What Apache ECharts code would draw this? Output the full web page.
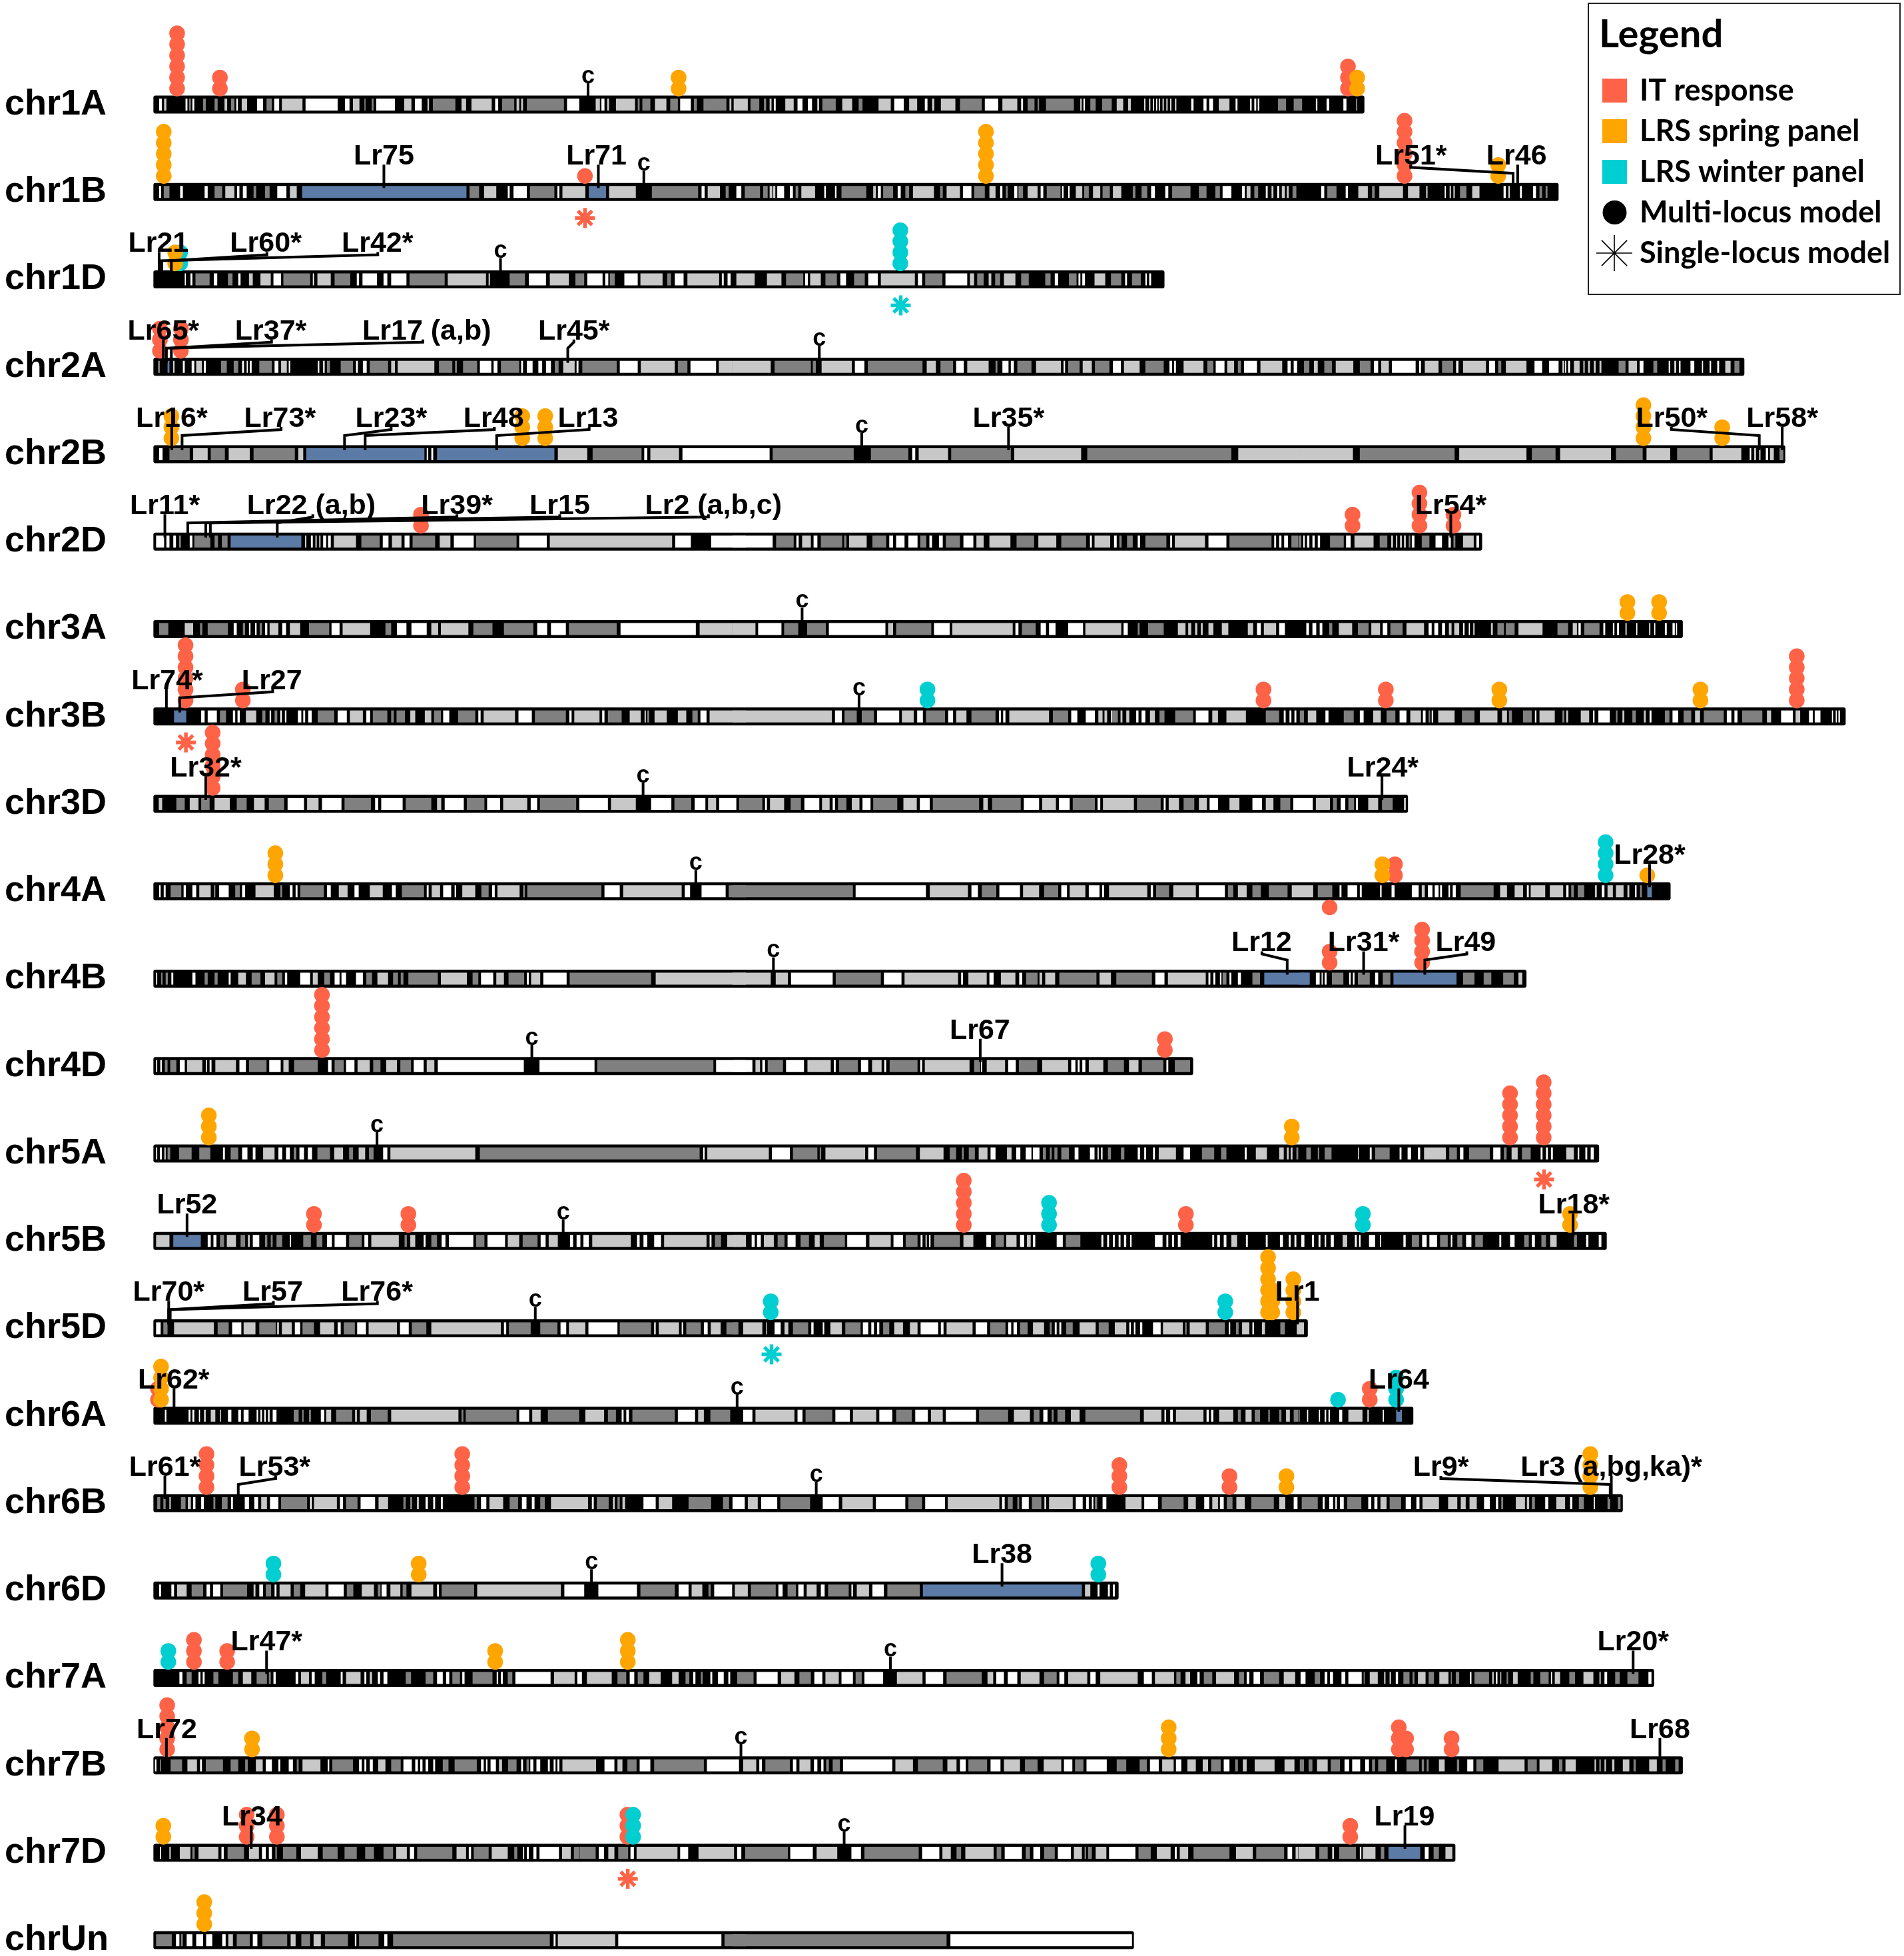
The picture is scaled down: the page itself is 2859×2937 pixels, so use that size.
<!DOCTYPE html>
<html>
<head>
<meta charset="utf-8">
<title>Lr genes on wheat chromosomes</title>
<style>html,body{margin:0;padding:0;background:#fff}#main{width:2859px;height:2937px}</style>
<script src="https://cdn.jsdelivr.net/npm/echarts@6/dist/echarts.min.js"></script>
</head>
<body>
<div id="main"></div>
<script>
var chrNames = ['chr1A','chr1B','chr1D','chr2A','chr2B','chr2D','chr3A','chr3B','chr3D','chr4A','chr4B','chr4D','chr5A','chr5B','chr5D','chr6A','chr6B','chr6D','chr7A','chr7B','chr7D','chrUn'];
// chromosome ends, in read-off units
var chrEnd = [3186,3694,2663,4180,4287,3494,4019,4445,3300,3987,3610,2738,3800,3820,3038,3314,3862,2543,3944,4019,3424,2583];

// band shades
var W = 0, L = 1, D = 2, B = 3;
// bands were read in three strips, each list is start,end,shade
var stripStart = [0, 1533, 3014];

var band1A = [
 [33,40,W,46,52,L,102,107,W,111,116,D,120,125,W,148,155,D,178,186,D,204,211,L,221,230,D,235,239,W,249,263,L,289,305,W,314,328,D,334,347,W,354,408,L,416,500,W,519,531,W,540,557,L,570,573,D,589,594,D,601,650,W,674,693,L,702,720,W,735,739,L,749,808,D,824,836,L,850,903,L,912,920,W,930,962,D,968,975,L,980,985,L,995,1092,D,1100,1132,W,1175,1186,L,1190,1198,W,1205,1210,L,1228,1278,L,1285,1290,D,1297,1318,D,1330,1360,L,1370,1390,D,1396,1424,W,1432,1440,D,1457,1517,D,1525,1530,L],
 [3,40,L,47,70,D,82,88,D,97,102,L,108,113,W,138,160,L,170,183,W,197,208,W,222,226,W,235,270,D,287,313,L,330,340,D,382,414,L,423,448,W,462,483,L,503,510,W,522,528,L,545,583,L,595,652,D,660,695,W,706,745,L,755,760,W,772,790,D,798,802,D,820,893,D,910,913,W,918,922,W,936,950,D,967,992,D,1005,1022,L,1035,1042,L,1077,1080,W,1090,1093,W,1100,1103,W,1108,1111,W,1115,1118,W,1125,1128,W,1135,1138,W,1145,1148,W,1158,1161,W,1200,1206,W,1232,1240,W,1247,1257,W,1272,1300,L,1316,1321,W,1354,1358,W,1365,1370,W,1374,1378,W,1427,1448,D,1468,1490,D,1526,1530,W,1554,1561,W,1598,1606,W,1632,1634,W],
 []];
var band1B = [
 [33,38,W,45,60,D,88,95,W,152,160,W,178,198,D,206,230,L,237,243,W,252,262,W,280,287,D,310,322,D,342,366,W,375,393,L,407,837,B,845,870,D,883,915,L,945,950,W,960,995,W,1003,1067,D,1075,1080,W,1088,1148,L,1157,1202,B,1210,1280,L,1322,1443,D,1452,1460,W,1468,1500,L,1515,1523,D],
 [10,23,W,32,72,D,80,92,D,97,103,L,105,112,L,117,135,W,150,158,W,165,172,D,180,216,L,240,244,W,268,272,W,285,350,D,368,375,L,380,388,W,394,420,D,432,440,W,452,462,D,472,527,L,543,550,D,560,595,L,603,625,W,632,660,D,672,688,L,700,706,W,715,720,D,737,745,W,748,760,D,772,798,L,806,813,W,822,858,D,862,866,W,878,882,W,898,915,L,920,932,D,943,962,L,968,987,D,995,1017,L,1047,1054,D,1070,1085,D,1095,1105,W,1132,1140,W,1150,1198,D,1220,1240,D,1263,1275,D,1282,1305,W,1333,1340,W,1345,1355,L,1365,1375,D,1395,1400,W,1410,1415,L,1425,1430,W,1437,1445,L,1450,1455,L,1465,1475,D],
 [59,67,W,75,99,D,123,129,W,156,181,L,192,199,D,211,273,L,286,316,L,334,337,W,382,385,W,395,398,W,405,408,W,422,439,D,454,473,L,536,542,W,549,552,W,579,584,W,613,621,W,630,637,D,646,651,D]];
var band1D = [
 [100,103,W,115,120,W,128,165,D,176,185,W,213,225,D,240,246,W,268,278,L,298,325,L,332,352,W,358,428,D,435,438,W,447,482,L,492,533,D,550,556,W,565,603,W,620,630,W,640,680,W,688,780,D,788,888,L,895,898,W,950,990,D,1000,1045,W,1055,1105,L,1122,1145,D,1153,1193,W,1200,1208,W,1212,1225,D,1250,1285,W,1292,1350,L,1362,1372,D,1382,1405,W,1415,1498,L,1505,1510,W,1520,1528,W],
 [10,58,L,90,128,L,140,185,D,190,197,W,203,231,L,243,273,D,282,297,W,318,346,D,355,380,W,388,477,L,485,496,W,504,549,D,557,614,W,621,632,L,640,657,D,670,677,L,687,700,D,710,740,L,755,775,D,818,832,D,843,852,W,880,900,D,905,910,W,915,922,W,947,975,L,990,1017,D,1027,1032,W,1045,1068,D,1080,1084,W,1090,1095,W],
 []];
var band2A = [
 [30,35,D,55,60,B,70,73,W,95,100,W,118,125,W,130,145,L,150,155,W,195,210,D,228,240,D,250,255,W,262,265,W,270,275,W,295,328,D,335,345,W,352,367,L,372,376,W,448,452,W,462,466,W,472,480,D,508,540,D,548,553,W,566,576,W,584,632,D,640,650,L,657,753,L,765,800,D,807,812,D,828,865,D,872,902,W,908,918,W,927,975,D,980,985,W,995,1010,W,1025,1035,W,1045,1058,W,1068,1078,D,1090,1120,L,1125,1130,W,1140,1230,D,1238,1285,W,1293,1382,L,1390,1415,D,1423,1490,W,1497,1533,L],
 [0,100,L,110,205,D,210,218,D,233,312,L,320,345,W,354,497,D,508,532,L,544,577,D,585,605,W,614,670,L,688,693,D,706,722,W,728,736,W,745,782,D,794,859,L,866,870,W,878,908,D,916,940,L,948,986,D,995,1016,W,1024,1065,L,1080,1128,D,1143,1150,W,1155,1160,W,1180,1232,L,1242,1258,D,1264,1287,W,1294,1312,L,1322,1330,D,1338,1372,W,1381,1438,L,1452,1460,W,1468,1477,W],
 [14,28,D,40,50,L,67,87,D,97,143,L,160,188,D,197,208,W,216,236,L,244,306,W,315,320,W,330,366,L,375,404,D,412,418,W,430,490,L,498,514,W,522,530,D,542,596,L,617,637,W,655,680,W,690,695,L,697,700,W,705,710,W,720,735,L,745,748,W,757,762,L,772,777,L,787,792,L,837,855,D,863,885,L,892,902,W,928,938,D,968,972,W,983,987,W,995,999,W,1025,1035,W,1055,1058,W,1075,1079,W,1095,1100,W,1116,1130,L,1140,1153,D]];
var band2B = [
 [33,42,W,60,113,D,122,160,L,168,205,D,215,270,L,280,388,D,397,410,L,418,727,B,733,737,W,745,750,W,760,1067,B,1076,1153,L,1167,1295,D,1302,1310,W,1318,1393,L,1402,1568,W],
 [0,97,W,105,317,D,362,460,D,470,478,W,487,564,L,572,728,D,737,912,L,928,1305,D,1323,1481,L],
 [0,142,L,160,408,D,420,596,L,610,672,D,684,817,L,830,900,D,910,972,L,990,1075,D,1083,1158,L,1180,1184,W,1192,1196,W,1205,1208,W,1222,1228,W,1233,1243,L,1258,1268,D]];
var band2D = [
 [25,46,W,52,60,W,70,77,W,85,90,D,113,120,W,125,167,D,178,187,D,197,212,D,220,405,B,415,418,W,430,435,W,442,445,W,452,455,W,462,470,W,475,482,W,490,548,L,562,610,D,618,633,W,642,667,L,675,688,W,696,755,D,767,795,L,804,856,W,862,968,D,975,1047,W,1055,1375,L,1383,1424,W,1477,1568,W],
 [0,105,W,114,160,D,167,173,W,182,205,L,212,222,W,231,287,D,292,298,D,305,351,L,366,402,D,410,420,W,428,450,W,460,484,W,491,507,D,515,522,W,540,550,W,558,595,D,604,630,W,638,657,L,672,727,L,743,789,D,800,847,L,860,925,D,935,940,W,947,988,L,998,1005,W,1012,1018,D,1032,1047,D,1060,1066,W,1080,1135,D,1145,1150,W,1157,1236,L,1245,1292,W,1300,1410,D,1417,1422,W,1430,1436,W,1443,1453,W,1462,1480,D],
 [0,7,D,12,16,W,22,28,W,36,42,W,50,56,W,82,118,D,124,136,W,146,196,L,212,232,D,242,247,L,255,258,W,265,270,L,276,280,W,288,292,D,296,303,W,322,342,D,358,375,W,392,398,W,405,410,D,430,458,L,465,472,W]];
var band3A = [
 [33,57,D,100,122,L,140,146,D,160,213,D,228,236,W,252,258,D,268,272,W,284,288,W,296,302,D,310,316,W,322,345,L,355,365,W,375,402,L,425,478,D,484,505,W,513,585,L,625,640,D,655,680,W,693,733,W,745,763,L,770,842,L,855,905,D,935,1012,D,1022,1048,W,1058,1097,W,1105,1230,D,1240,1437,W,1447,1533,L],
 [0,60,L,67,128,W,135,172,D,195,244,D,252,400,W,407,420,L,428,520,D,527,568,W,575,733,L,740,748,W,757,793,D,806,820,W,828,845,W,878,917,W,923,1017,L,1023,1034,W,1060,1065,D,1087,1128,D,1165,1185,L,1192,1200,L,1210,1216,L,1225,1230,L,1245,1258,L,1280,1297,L,1348,1362,L,1372,1382,W,1390,1422,L,1430,1445,W],
 [20,27,W,36,46,W,55,62,W,80,88,D,105,140,L,155,183,D,190,213,L,220,232,W,240,272,D,282,328,L,340,348,W,355,365,W,375,383,W,393,400,L,407,420,L,430,434,W,445,448,W,457,460,W,503,508,L,520,537,D,542,565,D,575,638,L,677,705,D,717,728,L,732,738,W,747,787,D,797,802,W,822,826,W,833,838,W,855,858,W,883,886,W,917,920,W,930,933,W,958,963,W,978,984,W,987,990,W]];
var band3B = [
 [72,104,B,143,152,W,160,184,W,192,208,D,226,232,W,238,244,W,260,287,L,303,311,D,322,326,W,335,342,D,350,354,W,362,366,W,396,405,W,410,415,W,423,432,W,448,491,D,500,524,W,532,566,L,575,585,W,592,630,D,640,647,D,654,676,D,690,703,L,728,745,L,752,770,D,776,792,W,815,860,D,868,874,W,882,964,L,973,1008,W,1016,1097,D,1106,1112,W,1119,1185,L,1192,1198,W,1207,1243,D,1264,1293,L,1303,1306,W,1310,1315,D,1329,1361,L,1390,1412,L,1428,1442,D,1449,1465,W,1473,1568,L],
 [0,260,L,268,286,W,293,325,D,338,370,D,378,436,W,443,474,L,483,498,W,506,556,D,564,577,W,585,612,L,625,688,D,697,702,W,708,714,W,724,828,L,838,878,D,886,902,W,924,948,W,957,968,L,973,980,L,990,993,W,993,1008,D,1015,1020,L,1030,1038,L,1056,1062,W,1070,1080,W,1092,1105,L,1117,1130,D,1158,1205,D,1212,1245,W,1255,1270,L,1292,1343,L,1395,1430,D,1442,1447,W,1457,1462,W,1470,1475,W],
 [3,14,D,24,46,L,70,78,W,118,144,D,160,170,W,195,215,L,230,253,D,264,282,W,292,320,L,325,332,W,340,344,D,348,352,W,365,408,L,427,460,D,474,520,L,532,545,L,550,558,D,587,610,D,618,622,W,630,670,L,690,695,D,700,705,L,738,760,L,770,774,W,784,814,W,830,834,D,847,852,L,873,882,D,903,908,L,918,923,W,958,970,D,978,993,W,1007,1027,D,1037,1050,L,1060,1112,D,1120,1132,W,1140,1148,W,1160,1213,D,1225,1236,L,1262,1293,W,1300,1312,L,1335,1345,W,1350,1365,W,1395,1398,W,1405,1408,W,1412,1416,W]];
var band3D = [
 [32,41,L,78,100,D,113,136,L,143,165,D,178,218,L,236,262,D,281,309,L,320,360,D,369,412,W,420,450,L,459,510,W,518,587,D,598,606,W,614,670,W,678,745,D,760,771,L,780,830,W,838,884,D,891,925,W,933,996,L,1005,1022,W,1029,1124,D,1132,1207,W,1215,1280,L,1320,1373,W,1381,1425,D,1434,1462,W,1469,1490,L,1498,1543,W,1552,1568,D],
 [0,8,W,17,78,D,85,90,W,98,135,L,152,179,D,188,227,W,234,254,L,262,268,W,276,298,D,312,332,L,340,361,W,368,431,D,447,482,L,490,516,W,524,645,D,656,668,L,679,754,D,762,802,W,810,846,L,854,882,W,890,948,D,955,962,W,969,1050,L,1058,1120,D,1128,1133,W,1141,1168,L,1180,1208,D,1220,1241,L,1248,1270,W,1300,1326,L,1360,1385,W,1395,1415,L,1433,1459,D,1467,1481,W],
 [0,37,W,45,82,L,90,100,D,110,122,W,130,145,D,150,155,W,182,208,L,218,246,D,276,280,W]];
var band4A = [
 [33,37,W,45,50,W,63,91,D,97,103,W,120,130,W,138,168,L,176,180,D,190,215,W,232,244,D,250,258,W,285,333,L,350,355,D,375,382,W,390,395,W,402,464,D,472,482,W,503,526,L,544,555,W,584,618,L,642,652,W,668,726,D,733,738,W,746,768,L,776,797,W,806,810,W,826,860,L,876,895,D,904,911,W,918,976,L,985,990,D,996,1190,D,1198,1238,W,1247,1400,L,1408,1422,W,1452,1515,W,1523,1568,D],
 [0,315,D,322,506,W,516,616,L,625,642,W,652,690,D,698,752,W,760,802,L,815,852,D,860,875,W,882,923,L,932,960,W,967,972,W,985,1085,L,1094,1100,W,1108,1142,D,1153,1212,L,1220,1288,W,1296,1310,D,1322,1345,L,1360,1382,D,1403,1452,D,1463,1481,L],
 [0,38,L,50,88,D,107,112,W,128,153,W,160,165,W,213,217,W,243,251,W,296,314,W,322,330,L,338,350,W,356,366,W,370,375,W,392,396,W,403,411,W,424,510,D,527,545,L,565,587,L,597,602,W,607,645,L,657,692,L,700,706,W,713,720,D,730,747,D,775,780,L,793,800,W,808,822,L,830,850,L,860,865,L,880,884,W,893,898,D,912,924,B]];
var band4B = [
 [25,28,W,38,42,D,50,56,D,65,70,W,120,128,W,152,160,D,178,186,D,215,220,W,240,260,L,275,298,D,310,335,L,342,355,D,362,368,W,402,428,W,435,448,L,465,480,D,492,505,W,510,522,W,548,566,W,575,590,D,604,632,L,645,658,D,665,672,D,685,762,D,770,838,L,853,868,D,875,907,W,915,935,L,947,988,D,995,1000,W,1006,1030,L,1038,1099,W,1107,1320,D,1332,1568,L],
 [0,100,L,113,145,L,153,262,W,270,388,D,396,442,W,450,590,L,598,603,W,617,665,L,672,683,W,702,740,L,750,758,W,768,798,D,803,810,L,818,844,L,855,952,D,960,990,L,1004,1097,D,1106,1130,W,1139,1238,L,1245,1250,W,1258,1263,W,1275,1279,W,1282,1292,D,1300,1305,W,1322,1330,W,1360,1380,D,1391,1510,B],
 [0,28,B,45,55,W,60,63,W,68,73,W,87,117,D,132,136,W,142,146,W,155,186,D,200,208,W,220,240,D,248,413,B,430,460,D,484,504,D,535,563,D,575,585,L]];
var band4D = [
 [25,28,W,36,40,W,48,55,D,62,78,D,87,100,W,106,146,L,155,158,W,165,170,W,180,234,L,243,260,W,268,314,D,321,351,W,358,372,L,386,448,D,475,484,W,492,516,D,522,544,W,552,584,L,593,612,D,627,655,L,664,692,D,699,725,W,733,753,L,762,987,W,1028,1172,W,1179,1483,D,1490,1568,W],
 [0,52,W,60,72,L,78,85,W,92,132,D,140,187,W,196,257,L,265,270,W,279,328,D,336,355,W,365,390,L,397,402,W,411,484,D,491,496,W,503,620,L,632,648,D,650,653,W,665,713,L,721,741,W,749,797,D,810,878,L,886,897,W,903,908,W,915,923,W,932,970,L,982,1024,D,1037,1062,L,1071,1127,D,1135,1140,W,1157,1197,D],
 []];
var band5A = [
 [25,28,W,35,40,W,47,50,W,55,62,D,85,118,D,138,167,D,200,205,W,220,240,D,250,264,W,278,285,W,305,335,L,345,355,W,365,375,W,385,392,D,400,412,W,422,433,W,447,480,D,491,514,L,530,540,D,555,572,L,582,594,D,619,630,W,638,860,L,872,1447,D,1456,1460,W,1467,1568,L],
 [0,95,L,103,150,W,158,222,D,228,232,D,243,347,L,355,370,W,378,480,D,490,552,L,568,585,D,600,605,D,618,634,D,644,667,L,675,688,W,718,730,L,742,753,W,767,782,W,786,803,W,812,820,D,830,835,D,842,850,D,860,880,D,895,905,W,935,947,W,955,958,W,964,968,W,982,990,D,1016,1025,D,1060,1066,W,1077,1082,W,1100,1105,W,1115,1160,L,1180,1197,W,1228,1260,D,1278,1292,D,1340,1345,W,1369,1398,L,1430,1442,L,1450,1455,L,1460,1465,L,1475,1480,D],
 [20,32,D,50,54,D,68,86,D,155,157,W,186,191,W,200,238,D,264,269,W,285,294,W,312,318,W,328,385,L,394,414,D,422,431,W,446,500,D,509,528,W,537,544,D,557,573,L,584,607,D,633,638,W,647,652,W,660,665,W,700,720,L,730,734,W,750,755,W,764,772,W]];
var band5B = [
 [25,60,L,70,142,B,160,168,W,175,183,W,192,203,D,210,234,L,246,258,D,265,270,L,278,295,W,310,316,D,325,330,D,340,355,D,375,378,W,410,430,D,445,460,D,472,485,W,492,522,W,530,563,D,570,580,W,588,660,L,675,681,D,690,703,L,725,730,W,745,760,D,772,782,W,791,855,W,862,884,D,892,938,W,945,975,L,984,1023,D,1031,1044,W,1052,1076,L,1108,1116,W,1125,1135,W,1143,1157,W,1166,1267,L,1283,1290,W,1300,1310,W,1328,1346,W,1354,1465,L,1473,1478,W,1487,1503,D,1519,1568,L],
 [0,25,L,50,58,W,64,74,W,82,108,L,118,136,D,144,165,W,178,200,D,215,228,L,239,294,D,300,349,W,358,414,L,421,446,W,453,484,D,492,497,W,505,508,W,514,518,W,527,595,D,604,630,L,664,676,W,688,710,D,716,743,L,752,763,W,770,780,L,786,792,W,848,864,W,872,910,D,965,970,W,980,985,W,995,1000,W,1010,1015,W,1024,1030,W,1040,1044,W,1105,1125,W,1135,1140,W,1150,1155,W,1165,1172,W,1255,1260,W,1268,1275,W,1285,1292,W,1305,1320,L,1343,1348,W,1395,1400,W,1432,1440,W,1455,1460,W,1470,1475,W],
 [7,15,W,35,40,W,52,57,W,68,72,W,84,92,W,115,127,L,147,152,W,158,162,W,184,200,W,213,216,W,274,280,W,296,315,D,323,335,W,342,362,W,370,390,D,398,402,W,415,428,D,438,452,W,462,482,D,525,530,W,553,565,W,590,602,D,610,618,W,635,647,D,658,675,L,720,728,D,752,758,W,785,792,W]];
var band5D = [
 [25,37,W,44,55,D,72,176,L,186,215,D,224,248,W,254,285,L,295,338,D,342,346,W,354,380,L,388,402,W,408,438,D,454,491,L,500,508,W,516,545,D,551,574,W,581,655,L,663,686,W,694,732,D,745,927,L,935,941,W,948,1005,D,1030,1075,D,1083,1098,W,1105,1148,L,1156,1232,W,1238,1320,D,1328,1332,W,1340,1393,L,1400,1404,W,1412,1450,D,1458,1468,W,1476,1502,L,1517,1548,D,1560,1568,W],
 [0,15,D,28,78,L,88,90,W,110,126,W,136,146,L,158,198,D,206,212,W,236,240,W,256,286,L,295,335,D,341,355,W,363,370,W,378,384,W,394,410,D,423,446,L,464,484,L,492,538,W,545,552,W,560,628,L,636,666,W,674,714,D,721,729,W,735,744,W,752,772,D,786,815,L,830,835,D,843,848,W,855,860,W,873,890,D,908,950,L,958,984,D,1000,1030,L,1038,1042,W,1050,1054,W,1066,1072,W,1100,1120,W,1126,1178,L,1184,1188,D,1196,1238,L,1246,1288,D,1298,1302,W,1317,1324,D,1333,1352,L,1360,1364,W,1385,1393,L,1433,1445,D,1476,1495,L],
 []];
var band6A = [
 [48,52,W,110,115,W,120,125,W,137,140,W,150,155,L,168,180,L,192,195,L,213,222,W,240,247,W,254,267,W,288,292,W,298,302,W,308,312,W,318,322,W,330,340,W,385,398,D,407,411,D,425,430,D,456,465,W,470,483,L,496,538,D,546,550,W,558,576,L,587,631,D,640,816,L,824,829,D,835,968,D,975,1001,W,1009,1031,L,1050,1132,D,1148,1197,L,1207,1228,D,1243,1248,W,1255,1262,W,1271,1382,D,1390,1435,W,1443,1458,L,1475,1527,D],
 [28,52,W,60,162,L,170,183,W,191,261,D,269,307,W,315,376,L,384,418,W,428,469,D,478,511,W,519,550,L,558,637,W,645,721,D,736,778,L,788,803,D,813,824,W,835,840,D,850,870,D,885,908,L,923,1066,D,1076,1122,L,1130,1134,W,1145,1152,W,1160,1232,L,1240,1246,W,1252,1258,W,1273,1310,L,1322,1330,D,1342,1358,L,1366,1380,D,1402,1405,L,1430,1436,D,1448,1458,L,1468,1480,D],
 [0,3,D,22,25,W,53,56,W,68,72,W,78,82,W,106,114,W,130,167,L,180,183,W,220,223,W,255,270,B]];
var band6B = [
 [28,36,D,44,50,D,60,63,W,90,102,D,108,116,L,122,128,W,143,150,W,175,180,D,197,212,D,221,226,W,257,268,W,282,292,W,300,315,L,323,345,W,352,420,D,428,432,W,438,498,L,506,514,W,522,552,D,560,598,W,607,632,L,672,678,D,690,695,D,708,712,W,730,736,W,750,755,W,770,775,W,858,864,D,875,889,W,897,933,L,950,972,D,982,994,W,1008,1015,W,1030,1042,D,1058,1155,L,1165,1170,W,1178,1209,D,1220,1225,L,1232,1238,D,1245,1252,L,1300,1332,W,1340,1375,L,1418,1477,D,1508,1524,D,1533,1568,W],
 [0,32,W,40,66,L,75,117,W,125,203,D,236,278,W,287,367,L,375,452,W,460,496,D,504,556,W,563,698,L,705,712,W,720,733,D,745,750,D,757,775,W,783,808,D,816,820,W,828,890,L,898,916,W,925,932,W,940,944,W,948,954,D,968,978,W,1028,1070,L,1077,1113,W,1123,1180,D,1192,1212,L,1234,1247,W,1255,1270,L,1275,1285,W,1293,1308,D,1318,1340,L,1357,1416,D,1430,1446,L,1468,1478,W],
 [8,50,D,63,68,W,80,90,W,96,100,W,108,118,W,127,164,D,182,190,W,198,206,W,214,230,L,238,268,D,280,294,W,308,316,W,324,367,L,391,415,L,424,437,L,447,466,L,485,500,W,516,522,W,530,535,D,568,592,L,597,603,L,610,618,D,645,653,W,674,697,L,710,716,W,733,746,D,772,775,W,808,815,D,835,842,D]];
var band6D = [
 [33,38,W,65,72,W,80,105,L,118,148,D,157,166,W,174,193,W,200,263,D,280,285,L,295,305,W,312,326,D,335,340,W,348,377,L,385,402,D,415,468,L,476,516,W,524,541,D,563,595,L,605,612,D,615,628,W,638,664,L,670,680,D,693,750,L,760,765,W,772,857,D,865,1084,L,1093,1145,W,1182,1283,W,1292,1382,D,1392,1418,W,1426,1454,L,1470,1476,D,1485,1532,W,1540,1568,L],
 [6,40,L,48,113,D,120,131,W,144,166,D,172,186,W,194,220,L,231,241,W,250,304,D,311,315,W,325,357,L,366,396,W,405,490,D,498,914,B,922,936,L,955,960,W,982,987,W,995,1000,W],
 []];
var band7A = [
 [86,94,W,105,118,D,136,141,W,147,152,W,175,188,D,226,240,D,252,274,L,288,315,D,320,325,D,332,338,W,390,397,W,404,425,L,432,440,W,460,470,D,508,513,W,522,560,L,570,575,W,584,590,L,605,611,W,620,630,W,678,692,D,730,750,D,760,775,W,784,792,W,800,820,D,826,832,W,853,905,D,916,920,W,927,932,W,945,957,D,965,1057,W,1066,1120,L,1127,1139,W,1152,1217,L,1232,1255,D,1264,1276,W,1285,1300,D,1315,1345,L,1375,1392,L,1410,1420,D,1430,1436,W,1450,1455,D,1475,1480,W,1495,1510,W,1522,1527,W,1545,1568,D],
 [12,55,D,63,118,W,127,162,L,175,205,D,214,235,W,243,278,L,285,315,W,322,338,D,345,394,W,430,497,L,505,551,W,560,652,D,667,682,L,690,710,W,720,745,W,754,803,L,815,848,D,855,868,W,878,928,L,936,950,W,962,1060,L,1076,1097,W,1105,1155,L,1161,1172,D,1185,1197,L,1216,1222,W,1233,1255,D,1265,1312,L,1325,1338,D,1345,1352,W,1363,1380,W,1390,1430,D,1442,1472,L],
 [5,18,W,42,56,D,68,75,W,82,90,W,112,122,W,130,165,W,170,173,D,186,207,L,224,227,W,238,241,W,254,260,W,274,290,D,298,303,D,312,332,L,340,354,D,368,392,L,398,401,D,411,420,D,448,452,W,460,498,D,507,510,W,516,520,W,528,530,W,544,548,D,561,573,L,607,614,D,632,654,D,660,663,W,670,684,L,708,723,D,745,771,L,787,790,W,800,807,W,828,840,D,860,889,D,915,923,W]];
var band7B = [
 [22,26,W,35,38,D,63,93,D,107,132,L,140,145,W,155,200,D,220,240,D,258,265,D,286,304,L,312,328,W,345,350,W,372,383,W,393,398,D,408,455,L,474,478,W,486,540,D,556,563,W,570,575,W,584,592,W,606,625,L,640,665,D,672,694,W,703,710,W,716,722,W,730,737,W,750,755,W,775,790,D,806,864,D,875,882,W,888,892,W,900,914,W,922,930,L,946,968,D,980,985,W,994,1000,D,1004,1012,W,1020,1030,W,1050,1055,W,1065,1070,W,1075,1080,W,1088,1176,L,1198,1224,W,1232,1245,L,1258,1282,D,1290,1318,W,1328,1458,D,1466,1550,W],
 [28,62,L,70,77,W,86,150,D,158,167,W,175,204,L,213,222,W,232,238,W,245,252,D,262,281,D,289,418,W,426,472,L,485,550,D,562,586,L,595,610,W,617,666,D,675,701,W,710,752,L,765,798,D,814,860,L,867,889,W,896,918,D,926,979,W,1005,1030,D,1065,1084,D,1092,1115,W,1124,1154,L,1160,1174,W,1190,1212,L,1230,1244,L,1252,1277,D,1285,1300,W,1315,1322,D,1335,1345,L,1366,1418,L,1444,1470,L],
 [3,14,D,26,36,D,48,76,L,84,108,D,120,132,W,140,161,W,174,184,W,192,200,D,208,229,D,252,257,W,282,315,D,322,328,D,335,340,D,367,382,L,414,420,D,441,457,W,465,483,D,523,591,L,599,623,D,630,663,L,681,690,D,698,725,L,774,778,L,787,790,L,800,804,L,820,826,L,848,865,L,876,882,D,917,937,L,952,960,D,985,994,D]];
var band7D = [
 [35,38,W,60,63,W,87,115,L,120,126,D,136,188,L,196,202,W,212,255,D,268,294,L,302,312,W,320,328,W,337,341,D,357,392,D,404,448,L,461,500,D,518,550,D,572,595,D,620,645,D,653,681,L,689,700,W,708,800,D,811,836,L,843,849,W,856,895,D,903,945,L,962,970,D,985,988,W,995,1000,W,1012,1020,W,1028,1079,W,1087,1110,L,1118,1132,D,1133,1175,D,1183,1197,W,1208,1224,L,1234,1260,D,1266,1275,W,1282,1389,L,1396,1417,W,1444,1537,L,1546,1558,W],
 [12,23,W,33,145,D,151,210,W,220,274,L,311,336,W,345,487,D,496,541,W,549,571,L,586,598,D,609,683,L,691,703,D,712,757,W,767,778,D,787,805,W,815,843,D,851,885,W,893,914,L,921,925,D,930,940,D,950,978,L,985,1054,W,1062,1094,D,1110,1146,L,1157,1162,W,1170,1192,L,1206,1300,D,1317,1361,L,1370,1443,D,1452,1464,W,1473,1480,L],
 [0,44,L,54,76,D,88,92,W,106,150,D,160,164,W,168,201,L,215,224,D,235,318,B,330,340,W,353,367,D,384,402,L]];
var bandUn = [
 [25,66,D,77,86,W,90,95,D,105,120,W,130,148,W,156,172,W,198,207,W,214,226,L,236,270,D,278,290,W,303,368,D,377,390,L,405,428,D,437,456,L,467,527,D,545,549,W,556,607,D,622,630,W,645,1055,D,1065,1070,W,1076,1226,L,1234,1504,W,1512,1568,D],
 [0,560,D,570,1045,W],
 []];
var allBands = [band1A,band1B,band1D,band2A,band2B,band2D,band3A,band3B,band3D,band4A,band4B,band4D,band5A,band5B,band5D,band6A,band6B,band6D,band7A,band7B,band7D,bandUn];

// marker stacks: chromosome, position, how many, first level (optional)
var itResponse = [[0,80,6],[0,192,2],[0,3143,3],[1,1147,1],[1,3291,6],[3,35,3],[3,90,3],[5,718,2],[5,3155,2],[5,3330,4],[5,3419,2],[7,102,6],[7,252,2],[7,2922,2],[7,3242,2],[7,4317,5],[8,173,6],[9,3266,2],[10,3095,2],[10,3095,1,5],[10,3337,4],[11,459,6],[11,2664,2],[12,3567,5],[12,3655,6],[13,438,2],[13,685,2],[13,2138,5],[13,2719,2],[15,30,2],[15,3200,2],[16,157,4],[16,826,4],[16,2545,3],[16,2833,2],[18,124,3],[18,211,2],[19,54,5],[19,3276,3],[19,3295,2],[19,3414,2],[20,262,3],[20,341,3],[20,1258,3],[20,3149,2]];
var lrsWinter = [[2,88,2],[2,1972,4],[7,2043,2],[9,3817,4],[13,2361,3],[13,3182,2],[14,1633,2],[14,2822,2],[15,3117,1],[15,3269,3],[17,332,2],[17,2490,2],[18,57,2],[20,1273,3]];
var lrsSpring = [[0,1392,2],[0,3167,2],[1,45,5],[1,2196,5],[1,3536,2],[2,75,2],[4,65,3],[4,983,3],[4,1043,3],[4,3916,4],[4,4122,2],[6,3874,2],[6,3957,2],[7,3539,2],[7,4065,2],[9,337,3],[9,3233,2],[9,3926,1],[12,163,3],[12,2996,2],[13,3724,2],[14,2934,6],[14,2945,3],[14,3000,4],[15,38,4],[16,2982,2],[16,3777,4],[17,712,2],[18,912,2],[18,1259,3],[19,276,2],[19,2674,3],[20,44,2],[21,151,3]];
// single-locus hits: chromosome, position
var singleIT = [[1,1147],[7,103],[12,3656],[20,1259]];
var singleWinter = [[2,1973],[14,1635]];

// centromeres: chromosome, position
var centromeres = [[0,1155],[1,1301],[2,926],[3,1760],[4,1871],[6,1715],[7,1864],[8,1299],[9,1437],[10,1640],[11,1008],[12,603],[13,1090],[14,1017],[15,1545],[16,1752],[17,1164],[18,1946],[19,1555],[20,1825]];

// known genes
var geneNames = ['Lr75','Lr71','Lr51*','Lr46','Lr21','Lr60*','Lr42*','Lr65*','Lr37*','Lr17 (a,b)','Lr45*','Lr16*','Lr73*','Lr23*','Lr48','Lr13','Lr35*','Lr50*','Lr58*','Lr11*','Lr22 (a,b)','Lr39*','Lr15','Lr2 (a,b,c)','Lr54*','Lr74*','Lr27','Lr32*','Lr24*','Lr28*','Lr12','Lr31*','Lr49','Lr67','Lr52','Lr18*','Lr70*','Lr57','Lr76*','Lr1','Lr62*','Lr64','Lr61*','Lr53*','Lr9*','Lr3 (a,bg,ka)*','Lr38','Lr47*','Lr20*','Lr72','Lr68','Lr34','Lr19'];
var geneChr = [1,1,1,1,2,2,2,3,3,3,3,4,4,4,4,4,4,4,4,5,5,5,5,5,5,7,7,8,8,9,10,10,10,11,13,13,14,14,14,14,15,15,16,16,16,16,17,18,18,19,19,20,20];
var geneTextPos = [621,1177,3308,3584,31,312,604,44,325,733,1118,66,349,640,908,1155,2255,3990,4279,48,431,812,1081,1483,3412,54,328,155,3234,3932,2917,3184,3451,2180,106,3734,58,330,603,3011,71,3276,48,335,3386,3832,2238,314,3889,53,3959,276,3291];
var geneTickPos = [621,1182,3575,3587,33,65,40,44,65,52,1102,66,93,518,572,916,2255,4219,4279,48,342,108,155,167,3412,52,87,155,3232,3932,2984,3184,3344,2181,106,3732,58,62,58,3011,72,3276,48,240,3829,3832,2238,314,3889,52,3959,274,3292];
// where a bent leader reaches its label, -1 when the leader is straight
var geneBendPos = [-1,-1,3307,-1,-1,315,605,-1,327,723,1118,-1,352,640,910,1158,-1,3989,-1,-1,435,812,1081,1470,-1,-1,330,-1,-1,-1,2918,-1,3454,-1,-1,-1,-1,332,604,-1,-1,-1,-1,338,3386,-1,-1,-1,-1,-1,-1,-1,-1];

var shadeColors = ['#ffffff','#c8c8c8','#808080','#5b7ba6'];
var rowPx = 131.25;
var blackFont = '"Liberation Sans", Arial, sans-serif';

function stackPoints(list){
	var out = [];
	list.forEach(function(s){
		var first = s[3] || 0;
		for (var k = 0; k < s[2]; k++) {
			out.push([s[1], s[0] - (24 + 16.6 * (first + k)) / rowPx]);
		}
	});
	return out;
}

function bandRows(){
	var out = [];
	allBands.forEach(function(strips, chr){
		strips.forEach(function(list, s){
			var nextHas = s < 2 && strips[s + 1].length > 0;
			var limit = nextHas ? stripStart[s + 1] - stripStart[s] : Infinity;
			for (var i = 0; i < list.length; i += 3) {
				if (list[i] >= limit) continue;
				out.push([chr, list[i] + stripStart[s], list[i + 1] + stripStart[s], list[i + 2]]);
			}
		});
	});
	return out;
}

// asterisk outline with n crossing strokes
function starPath(n, w){
	var d = '';
	for (var k = 0; k < n; k++) {
		var a = Math.PI * k / n, c = Math.cos(a), s = Math.sin(a);
		var pts = [[-50,-w],[50,-w],[50,w],[-50,w]].map(function(p){
			return (p[0] * c - p[1] * s + 50).toFixed(2) + ' ' + (p[0] * s + p[1] * c + 50).toFixed(2);
		});
		d += 'M' + pts[0] + 'L' + pts[1] + 'L' + pts[2] + 'L' + pts[3] + 'Z';
	}
	return 'path://' + d;
}

var chromBars = chrEnd.map(function(end, i){ return [i, 18, end]; });

var series = [
	{
		type:'custom', z:1, silent:true, clip:false, progressive:0, animation:false,
		data:chromBars,
		renderItem:function(params, api){
			var a = api.coord([api.value(1), api.value(0)]);
			var b = api.coord([api.value(2), api.value(0)]);
			return {type:'rect', shape:{x:a[0], y:a[1] - 13.5, width:b[0] - a[0], height:27, r:3}, style:{fill:'#000'}};
		}
	},
	{
		type:'custom', z:2, silent:true, clip:false, progressive:0, animation:false,
		data:bandRows(),
		renderItem:function(params, api){
			var a = api.coord([api.value(1), api.value(0)]);
			var b = api.coord([api.value(2), api.value(0)]);
			return {type:'rect', shape:{x:a[0], y:a[1] - 9, width:b[0] - a[0], height:18}, style:{fill:shadeColors[api.value(3)]}};
		}
	},
	{name:'IT response', type:'scatter', z:3, clip:false, symbol:'circle', symbolSize:23.5, itemStyle:{color:'#ff6347', opacity:1}, data:stackPoints(itResponse)},
	{name:'LRS winter panel', type:'scatter', z:4, clip:false, symbol:'circle', symbolSize:23.5, itemStyle:{color:'#00ced1', opacity:1}, data:stackPoints(lrsWinter)},
	{name:'LRS spring panel', type:'scatter', z:5, clip:false, symbol:'circle', symbolSize:23.5, itemStyle:{color:'#ffa500', opacity:1}, data:stackPoints(lrsSpring)},
	{name:'Multi-locus model', type:'scatter', itemStyle:{color:'#000', opacity:1}, data:[]},
	{
		name:'Single-locus model', type:'scatter', z:5, clip:false, symbol:starPath(4, 9), symbolSize:30,
		itemStyle:{color:'#000', opacity:1},
		data:singleIT.map(function(s){ return {value:[s[1], s[0] + 39 / rowPx], itemStyle:{color:'#ff6347'}}; })
			.concat(singleWinter.map(function(s){ return {value:[s[1], s[0] + 39 / rowPx], itemStyle:{color:'#00ced1'}}; }))
	},
	{
		// centromere ticks
		type:'custom', z:6, silent:true, clip:false, progressive:0, animation:false,
		data:centromeres,
		renderItem:function(params, api){
			var p = api.coord([api.value(1), api.value(0)]);
			return {type:'group', children:[
				{type:'line', shape:{x1:p[0], y1:p[1] - 8, x2:p[0], y2:p[1] - 32}, style:{stroke:'#000', lineWidth:4}},
				{type:'text', style:{x:p[0], y:p[1] - 42, text:'c', fill:'#000', font:'bold 36px ' + blackFont, textAlign:'center', textVerticalAlign:'middle'}}
			]};
		}
	},
	{
		// gene names and their leaders
		type:'custom', z:7, silent:true, clip:false, progressive:0, animation:false,
		data:geneNames.map(function(n, i){ return [geneChr[i], geneTextPos[i], geneTickPos[i], geneBendPos[i]]; }),
		renderItem:function(params, api){
			var chr = api.value(0), bend = api.value(3);
			var t = api.coord([api.value(1), chr]);
			var k = api.coord([api.value(2), chr]);
			var y = t[1], pts;
			if (bend < 0) {
				pts = [[k[0], y - 6], [k[0], y - 41]];
			} else {
				var e = api.coord([bend, chr]);
				pts = [[k[0], y - 6], [k[0], y - 28], [e[0], y - 37], [e[0], y - 41]];
			}
			return {type:'group', children:[
				{type:'polyline', shape:{points:pts}, style:{stroke:'#000', lineWidth:4, fill:null}},
				{type:'text', style:{x:t[0], y:y - 53, text:geneNames[params.dataIndex], fill:'#000', font:'bold 43px ' + blackFont, textAlign:'center', textVerticalAlign:'middle'}}
			]};
		}
	}
];

var chart = echarts.init(document.getElementById('main'), null, {renderer:'canvas'});
chart.setOption({
	animation:false,
	backgroundColor:'#fff',
	grid:{left:0, top:0, width:2859, height:2937, containLabel:false, outerBoundsMode:'none'},
	xAxis:{type:'value', min:-383.3, max:4597.6, show:false},
	yAxis:{
		type:'value', inverse:true, min:-1.19619, max:21.18095,
		axisLine:{show:false}, axisTick:{show:false}, splitLine:{show:false},
		axisLabel:{
			inside:true, margin:7, customValues:chrNames.map(function(n, i){ return i; }),
			formatter:function(v){ return chrNames[v]; },
			padding:[7,0,0,0],
			fontFamily:'Liberation Sans', fontWeight:'bold', fontSize:54, color:'#000'
		}
	},
	title:{text:'Legend', left:2401, top:23, padding:0, textStyle:{fontFamily:'Lato', fontWeight:'bold', fontSize:58, color:'#000'}},
	legend:[
		{
			orient:'vertical', left:2406, top:113.5, padding:0, itemWidth:37, itemHeight:36, itemGap:16, selectedMode:false,
			textStyle:{fontFamily:'Lato', fontWeight:'bold', fontSize:45, color:'#000', padding:[0,0,0,14]},
			data:[
				{name:'IT response', icon:'rect'},
				{name:'LRS spring panel', icon:'rect'},
				{name:'LRS winter panel', icon:'rect'},
				{name:'Multi-locus model', icon:'circle', itemStyle:{color:'#000', opacity:1}}
			]
		},
		{
			orient:'vertical', left:2397, top:353, padding:0, itemWidth:54, itemHeight:54, selectedMode:false,
			textStyle:{fontFamily:'Lato', fontWeight:'bold', fontSize:45, color:'#000', padding:[0,0,0,6]},
			data:[{name:'Single-locus model', icon:starPath(4, 1.5), itemStyle:{color:'#000', opacity:1}}]
		}
	],
	graphic:[{type:'rect', z:-1, shape:{x:2385, y:5, width:468, height:437}, style:{fill:'#fff', stroke:'#222', lineWidth:2}}],
	series:series
});
</script>
</body>
</html>
